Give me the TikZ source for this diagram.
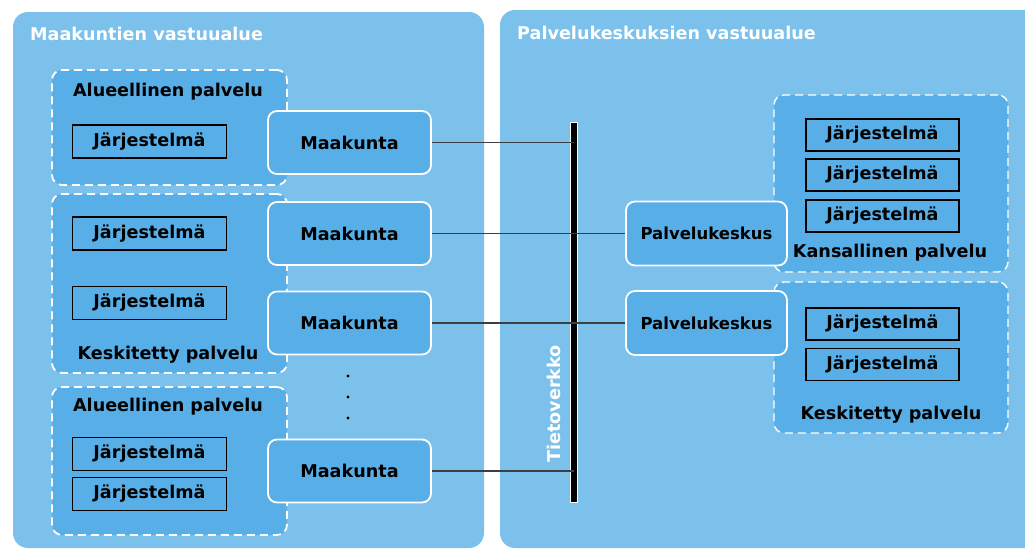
\documentclass[tikz,border=0pt]{standalone}
\usepackage{fontspec}
\setmainfont{DejaVu Sans}
\usepackage{tikz}
\usepackage{xcolor}
\usetikzlibrary{shapes, positioning}

\definecolor{areablue}{HTML}{7CC1EC}
\definecolor{boxblue}{HTML}{58AFE7}
\definecolor{wiregrey}{HTML}{3A3F44}

\tikzset{
    area/.style={fill=areablue, rounded corners=15pt},
    service/.style={draw=white, fill=boxblue, line width=1.8pt, dash pattern=on 8pt off 5pt, rounded corners=10pt, inner sep=0pt},
    unit/.style={draw=white, fill=boxblue, line width=1.8pt, rounded corners=9pt, font=\fontsize{17.6}{20}\selectfont\bfseries, inner sep=0pt},
    system/.style={draw=black, line width=1.6pt, minimum width=154pt, minimum height=33pt, inner sep=0pt, font=\fontsize{17.6}{20}\selectfont\bfseries},
    caption/.style={font=\fontsize{17.6}{20}\selectfont\bfseries, inner sep=0pt},
    wire/.style={draw=wiregrey, line width=1.1pt}
}

\begin{document}
\begin{tikzpicture}[x=1pt, y=-1pt]
        \clip (0,0) rectangle (1025,550);
        \fill[white] (0,0) rectangle (1025,550);

        % vastuualueet
        \fill[area] (13,12) rectangle (484,548);
        \fill[area] (500,10) rectangle (1045,548);
        \node[caption, white, anchor=west] (leftTitle) at (30,34) {Maakuntien vastuualue};
        \node[caption, white, anchor=west] (rightTitle) at (517,33) {Palvelukeskuksien vastuualue};

        % palvelualueet
        \node[service, minimum width=235pt, minimum height=115pt] (ls1) at (169.5,127.5) {};
        \node[service, minimum width=235pt, minimum height=179pt] (ls2) at (169.5,283.5) {};
        \node[service, minimum width=235pt, minimum height=148pt] (ls3) at (169.5,461) {};
        \node[service, line width=1.4pt, minimum width=234pt, minimum height=177pt] (rs1) at (891,183.5) {};
        \node[service, line width=1.4pt, minimum width=234pt, minimum height=151pt] (rs2) at (891,357.5) {};

        \node[caption] (ls1Label) at (168,92) {Alueellinen palvelu};
        \node[caption] (ls2Label) at (168,355) {Keskitetty palvelu};
        \node[caption] (ls3Label) at (168,407) {Alueellinen palvelu};
        \node[caption] (rs1Label) at (890,253) {Kansallinen palvelu};
        \node[caption] (rs2Label) at (891,415) {Keskitetty palvelu};

        % jarjestelmat
        \node[system] (j1) at (149.5,141.5) {Järjestelmä};
        \node[system] (j2) at (149.5,233.5) {Järjestelmä};
        \node[system] (j3) at (149.5,303) {Järjestelmä};
        \node[system] (j4) at (149.5,454) {Järjestelmä};
        \node[system] (j5) at (149.5,494) {Järjestelmä};
        \node[system, minimum width=153pt, minimum height=32pt] (j6) at (882.5,135) {Järjestelmä};
        \node[system, minimum width=153pt, minimum height=32pt] (j7) at (882.5,175) {Järjestelmä};
        \node[system, minimum width=153pt, minimum height=32pt] (j8) at (882.5,216) {Järjestelmä};
        \node[system, minimum width=153pt, minimum height=32pt] (j9) at (882.5,324) {Järjestelmä};
        \node[system, minimum width=153pt, minimum height=32pt] (j10) at (882.5,364.5) {Järjestelmä};

        % tietoverkko
        \node[fill=black, draw=white, line width=0.6pt, minimum width=7pt, minimum height=380pt, inner sep=0pt] (net) at (573.5,312) {};
        \node[caption, white, rotate=90] (netLabel) at (554,404) {Tietoverkko};

        % maakunnat ja palvelukeskukset
        \node[unit, minimum width=163pt, minimum height=63pt] (m1) at (349.5,142.5) {Maakunta};
        \node[unit, minimum width=163pt, minimum height=63pt] (m2) at (349.5,233.5) {Maakunta};
        \node[unit, minimum width=163pt, minimum height=63pt] (m3) at (349.5,323) {Maakunta};
        \node[unit, minimum width=163pt, minimum height=63pt] (m4) at (349.5,471) {Maakunta};
        \node[unit, font=\fontsize{16.5}{19}\selectfont\bfseries, minimum width=161pt, minimum height=64pt] (p1) at (706.5,233.5) {Palvelukeskus};
        \node[unit, font=\fontsize{16.5}{19}\selectfont\bfseries, minimum width=161pt, minimum height=64pt] (p2) at (706.5,323) {Palvelukeskus};

        \draw[wire] (m1.east) -- (m1 -| net.center)
            (m2.east) -- (p1.west)
            (m3.east) -- (p2.west)
            (m4.east) -- (m4 -| net.center);

        \foreach \y in {376, 397, 418}
            \fill[black] (348,\y) circle (1.6pt);
    \end{tikzpicture}
\end{document}
